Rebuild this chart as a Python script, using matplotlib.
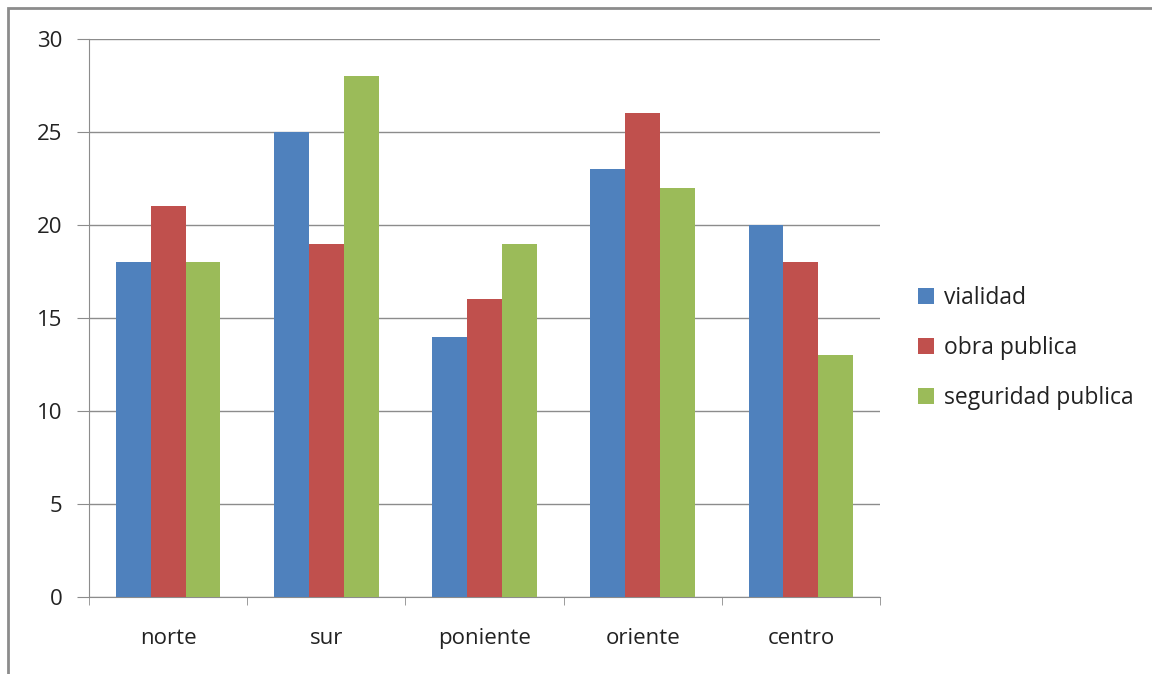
import numpy as np
import matplotlib.pyplot as plt
from matplotlib.patches import Rectangle

# data
zonas = ["norte", "sur", "poniente", "oriente", "centro"]
vialidad = [18, 25, 14, 23, 20]
obra_publica = [21, 19, 16, 26, 18]
seguridad_publica = [18, 28, 19, 22, 13]
series_names = ["vialidad", "obra publica", "seguridad publica"]
series_colors = ["#4F81BD", "#C0504D", "#9BBB59"]

plt.rcParams['font.family'] = ['Open Sans', 'DejaVu Sans']

fig = plt.figure(figsize=(11.52, 6.74), dpi=100)
ax = fig.add_axes([89/1152, 77/674, (880-89)/1152, (597-39)/674])

# outer chart border (only top and left visible in the reference)
fig.patches.append(Rectangle((8/1152, -0.1), 1.2, (674-8)/674 + 0.1,
                             transform=fig.transFigure, fill=False,
                             edgecolor="#8c8c8c", linewidth=2))

x = np.arange(len(zonas))
w = 0.22
for i, (vals, name, col) in enumerate(zip([vialidad, obra_publica, seguridad_publica],
                                          series_names, series_colors)):
    ax.bar(x + (i - 1) * w, vals, width=w, color=col, label=name, zorder=3)

ax.set_xlim(-0.5, len(zonas) - 0.5)
ax.set_ylim(0, 30)
ax.set_yticks(range(0, 31, 5))
ax.yaxis.grid(True, color="#8c8c8c", linewidth=1, zorder=0)

ax.set_xticks(x)
ax.set_xticklabels(zonas)
ax.set_xticks(np.arange(-0.5, len(zonas)), minor=True)
ax.tick_params(axis="x", which="major", length=0, pad=22, labelsize=16, labelcolor="#222222")
ax.tick_params(axis="x", which="minor", length=6, color="#8c8c8c", direction="out")
ax.tick_params(axis="y", length=9, color="#8c8c8c", pad=10, labelsize=16, labelcolor="#222222")

for side in ["top", "right"]:
    ax.spines[side].set_visible(False)
for side in ["left", "bottom"]:
    ax.spines[side].set_color("#8c8c8c")

fig.legend(loc="center left", bbox_to_anchor=(897/1152, 1 - 348/674), frameon=False,
           fontsize=16.5, handlelength=0.7, handleheight=0.7, handletextpad=0.45,
           labelspacing=1.15, labelcolor="#222222")

fig.savefig("out.png", dpi=100)
